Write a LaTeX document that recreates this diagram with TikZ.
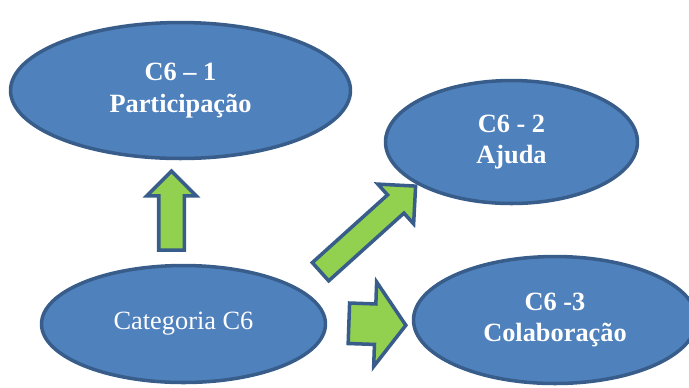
\documentclass[tikz,border=0pt]{standalone}
\usepackage{fontspec}
\setmainfont{Liberation Serif}
\usetikzlibrary{shapes.geometric,shapes.arrows}
\definecolor{azul}{HTML}{4F81BD}
\definecolor{borda}{HTML}{385D8A}
\definecolor{verde}{HTML}{92D050}
\tikzset{
    elipse/.style={ellipse, fill=azul, draw=borda, line width=2pt, inner sep=0pt,
        text=white, align=center, font=\fontsize{15}{18}\selectfont},
    seta/.style={single arrow, fill=verde, draw=borda, line width=2pt, inner xsep=0pt,
        single arrow head indent=0pt}
}
\begin{document}
\begin{tikzpicture}[x=0.02cm,y=-0.02cm]
    \useasboundingbox (0,0) rectangle (689,387);
    \clip (0,0) rectangle (689,387);
    % Elipses
    \node[elipse, minimum width=6.80cm, minimum height=2.72cm] (part) at (180.5,90.5)
        {\bfseries C6 – 1\\\bfseries Participação};
    \node[elipse, minimum width=5.04cm, minimum height=2.46cm] (ajuda) at (511.5,142)
        {\bfseries C6 - 2\\\bfseries Ajuda};
    \node[elipse, minimum width=5.68cm, minimum height=2.34cm] (categ) at (183.5,324)
        {Categoria C6};
    \node[elipse, minimum width=5.66cm, minimum height=2.54cm] (colab) at (555,320)
        {\bfseries C6 -3\\\bfseries Colaboração};
    % Setas
    \node[seta, rotate=90, inner ysep=0.22cm, minimum height=1.58cm, minimum width=0.92cm,
        single arrow head extend=0.24cm, single arrow tip angle=90] (seta1) at (171.5,217) {};
    \node[seta, rotate=42, inner ysep=0.21cm, minimum height=2.56cm, minimum width=1.0cm,
        single arrow head extend=0.29cm, single arrow tip angle=90] (seta2) at (363.5,233) {};
    \node[seta, rotate=-2, inner ysep=0.37cm, minimum height=1.14cm, minimum width=1.62cm,
        single arrow head extend=0.44cm, single arrow tip angle=108] (seta3) at (370,324) {};
\end{tikzpicture}
\end{document}
